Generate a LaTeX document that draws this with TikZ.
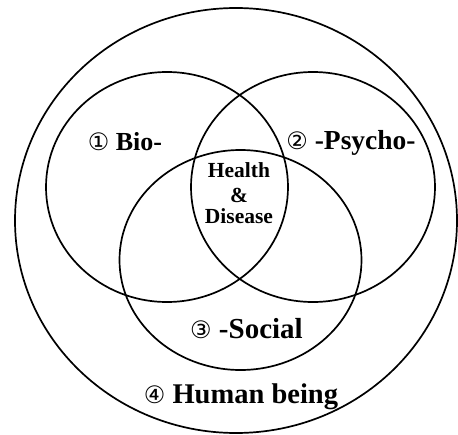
\documentclass[tikz,border=0pt]{standalone}
\usepackage{fontspec}
\setmainfont{Liberation Serif}
\newfontfamily\symfont{DejaVu Sans}
\begin{document}
\begin{tikzpicture}[x=1pt,y=-1pt,
  ring/.style={draw=black,line width=1.7pt},
  lbl/.style={anchor=base,inner sep=0pt,font=\bfseries\fontsize{26}{28}\selectfont},
  ctr/.style={anchor=base,inner sep=0pt,font=\bfseries\fontsize{21.5}{24}\selectfont}]
\useasboundingbox (0,0) rectangle (458,434);
\draw[ring] (236,220.5) ellipse [x radius=221, y radius=212.5];
\draw[ring] (167,187) ellipse [x radius=121, y radius=115];
\draw[ring] (313,187) ellipse [x radius=122, y radius=115];
\draw[ring] (240.5,260) ellipse [x radius=121, y radius=110];
\node[lbl] (bio) at (125,150) {{\symfont\mdseries\fontsize{24}{28}\selectfont ①} Bio-};
\node[lbl,font=\bfseries\fontsize{27.5}{30}\selectfont] (psy) at (351,149) {{\symfont\mdseries\fontsize{24}{28}\selectfont ②} -Psycho-};
\node[lbl,font=\bfseries\fontsize{29}{30}\selectfont] (soc) at (246.5,338) {{\symfont\mdseries\fontsize{24}{28}\selectfont ③} -Social};
\node[lbl,font=\bfseries\fontsize{28.5}{30}\selectfont] (hum) at (241,403) {{\symfont\mdseries\fontsize{24}{28}\selectfont ④} Human being};
\node[ctr] (h1) at (239,177) {Health};
\node[ctr] (h2) at (239,202) {\&};
\node[ctr] (h3) at (239,223) {Disease};
\end{tikzpicture}
\end{document}
